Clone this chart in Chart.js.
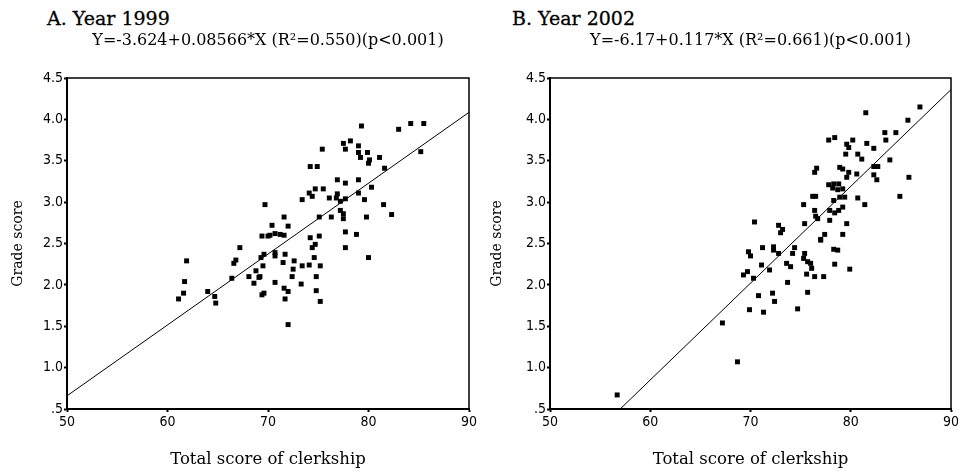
<!DOCTYPE html>
<html>
<head>
<meta charset="utf-8">
<script src="https://cdn.jsdelivr.net/npm/chart.js@4.4.1/dist/chart.umd.min.js"></script>
<style>
  html, body { margin: 0; padding: 0; background: #fff; }
  body { width: 958px; height: 473px; position: relative; overflow: hidden; }
  .panel { position: absolute; top: 0; width: 479px; height: 473px; }
  .heading { position: absolute; top: 9px; font: 19px/19px 'DejaVu Serif', serif; color: #000; white-space: nowrap; -webkit-text-stroke: 0.3px #000; }
</style>
</head>
<body>
<div class="heading" style="left:47px">A. Year 1999</div>
<div class="heading" style="left:512px">B. Year 2002</div>
<div class="panel" style="left:0"><canvas id="chart1999"></canvas></div>
<div class="panel" style="left:479px"><canvas id="chart2002"></canvas></div>
<script>
const xTickLabels = ['50', '60', '70', '80', '90'];
const yTickLabels = ['.5', '1.0', '1.5', '2.0', '2.5', '3.0', '3.5', '4.0', '4.5'];

const equation1999 = 'Y=-3.624+0.08566*X (R\u00b2=0.550)(p<0.001)';
const equation2002 = 'Y=-6.17+0.117*X (R\u00b2=0.661)(p<0.001)';

// clerkship score / grade score
const clerkship1999 = [
    61.1, 61.6, 61.7, 61.9, 64.0, 64.7, 64.8, 66.4, 66.6, 66.8, 67.2, 68.1, 68.6, 68.8, 69.1,
    69.3, 69.6, 69.5, 69.4, 69.6, 69.4, 70.0, 69.7, 70.4, 69.2, 70.7, 70.2, 70.7, 71.2, 71.6,
    71.6, 72.0, 70.7, 70.7, 71.7, 71.5, 72.6, 72.5, 73.4, 74.1, 74.6, 75.2, 72.4, 74.8, 73.3,
    71.6, 72.0, 71.7, 74.8, 75.2, 72.0, 74.2, 75.1, 74.7, 74.4, 77.7, 78.8, 77.7, 80.0, 73.4,
    74.1, 74.7, 74.4, 75.5, 76.1, 76.9, 76.8, 77.2, 77.7, 79.0, 79.6, 81.5, 82.3, 79.8, 77.2,
    77.5, 77.5, 76.3, 75.1, 74.2, 74.9, 76.9, 77.7, 79.0, 80.3, 75.4, 77.5, 77.7, 78.2, 79.0,
    79.0, 79.2, 79.9, 80.1, 80.0, 81.1, 81.6, 79.3, 83.0, 84.2, 85.5, 85.2
];
const grade1999 = [
    1.83, 1.90, 2.04, 2.29, 1.92, 1.86, 1.78, 2.08, 2.26, 2.30, 2.45, 2.10, 2.02, 2.17, 2.09,
    2.33, 2.37, 2.23, 1.88, 1.90, 2.59, 2.59, 2.97, 2.72, 2.10, 2.03, 2.60, 2.62, 2.61, 2.60,
    2.82, 2.71, 2.39, 2.35, 2.37, 2.27, 2.29, 2.19, 2.23, 2.24, 2.33, 2.23, 2.10, 2.10, 2.01,
    1.96, 1.92, 1.83, 1.93, 1.80, 1.52, 2.57, 2.59, 2.49, 2.45, 2.64, 2.61, 2.45, 2.33, 3.03,
    3.11, 3.16, 3.07, 3.16, 3.05, 3.10, 3.05, 3.01, 3.04, 3.11, 3.03, 2.97, 2.85, 2.82, 2.90,
    2.86, 2.80, 2.82, 2.82, 3.43, 3.43, 3.27, 3.23, 3.27, 3.18, 3.64, 3.71, 3.64, 3.74, 3.68,
    3.60, 3.54, 3.60, 3.51, 3.47, 3.54, 3.41, 3.92, 3.88, 3.95, 3.95, 3.61
];

// clerkship score / grade score
const clerkship2002 = [
    56.7, 67.2, 68.7, 69.9, 69.3, 69.7, 69.8, 70.0, 71.2, 72.3, 72.3, 72.8, 74.2, 74.4, 75.4,
    75.3, 75.7, 76.0, 76.1, 77.0, 78.3, 78.7, 78.4, 79.9, 71.1, 71.9, 70.3, 73.6, 74.0, 75.6,
    76.4, 77.3, 73.7, 70.8, 72.2, 72.4, 75.7, 71.3, 74.7, 86.9, 81.5, 85.7, 83.4, 84.5, 83.5,
    77.8, 78.4, 79.6, 80.2, 79.8, 81.6, 82.3, 79.5, 80.7, 81.1, 83.9, 76.6, 76.4, 78.9, 79.2,
    79.8, 80.6, 79.6, 82.3, 82.7, 82.3, 82.6, 85.8, 77.8, 78.3, 78.8, 78.2, 78.7, 79.2, 79.4,
    78.9, 78.3, 80.7, 81.4, 84.9, 76.2, 76.5, 75.3, 76.4, 76.5, 76.7, 77.9, 78.4, 78.8, 79.2,
    77.9, 79.6, 75.4, 70.4, 72.8, 73.2, 73.0, 77.0, 77.4, 79.2
];
const grade2002 = [
    0.67, 1.54, 1.07, 1.70, 2.12, 2.16, 2.40, 2.35, 2.45, 2.46, 2.42, 2.38, 2.38, 2.45, 2.38,
    2.32, 2.28, 2.26, 2.20, 2.54, 2.43, 2.42, 2.25, 2.19, 2.24, 2.18, 2.08, 2.26, 2.22, 2.13,
    2.10, 2.10, 2.03, 1.87, 1.90, 1.80, 1.91, 1.67, 1.71, 4.15, 4.08, 3.99, 3.84, 3.84, 3.75,
    3.75, 3.78, 3.70, 3.75, 3.66, 3.71, 3.65, 3.58, 3.58, 3.52, 3.51, 3.41, 3.36, 3.42, 3.40,
    3.36, 3.34, 3.30, 3.43, 3.43, 3.33, 3.27, 3.30, 3.21, 3.22, 3.22, 3.17, 3.15, 3.16, 3.06,
    3.06, 3.02, 3.05, 2.97, 3.07, 3.07, 3.07, 2.97, 2.90, 2.83, 2.80, 2.90, 2.87, 2.90, 2.94,
    2.78, 2.74, 2.74, 2.76, 2.72, 2.67, 2.63, 2.55, 2.61, 2.61
];

// end points of the fitted lines
const fitX1999 = [50, 90];
const fitY1999 = [0.659, 4.085];
const fitX2002 = [57.0, 90];
const fitY2002 = [0.5, 4.36];

const serif = "'DejaVu Serif', serif";
const narrow = "'DejaVu Sans Condensed', 'Liberation Sans Narrow', sans-serif";

const frameBox = {
    id: 'frameBox',
    afterDraw(chart) {
        const a = chart.chartArea;
        const ctx = chart.ctx;
        ctx.save();
        ctx.strokeStyle = '#000';
        ctx.lineWidth = 1.5;
        ctx.strokeRect(a.left, a.top, a.right - a.left, a.bottom - a.top);
        ctx.restore();
    }
};

function toPoints(xs, ys) {
    return xs.map((x, i) => ({ x: x, y: ys[i] }));
}

function makeChart(canvasId, equation, xs, ys, fitX, fitY, axisWidth, rightPad) {
    const ctx = document.getElementById(canvasId).getContext('2d');
    return new Chart(ctx, {
        type: 'scatter',
        data: {
            datasets: [{
                data: toPoints(xs, ys),
                pointStyle: 'rect',
                pointRadius: 3.5,
                pointHoverRadius: 3.5,
                backgroundColor: '#000',
                borderColor: '#000',
                borderWidth: 0
            }, {
                type: 'line',
                data: toPoints(fitX, fitY),
                borderColor: '#000',
                borderWidth: 1,
                pointRadius: 0,
                fill: false
            }]
        },
        options: {
            responsive: true,
            maintainAspectRatio: false,
            animation: false,
            events: [],
            layout: { padding: { left: 0, right: rightPad, top: 0, bottom: 0 } },
            plugins: {
                legend: { display: false },
                tooltip: { enabled: false },
                title: {
                    display: true,
                    text: equation,
                    fullSize: false,
                    color: '#000',
                    font: { family: serif, size: 16, weight: 'normal' },
                    padding: { top: 31, bottom: 27.8 }
                }
            },
            scales: {
                x: {
                    type: 'linear',
                    min: 50,
                    max: 90,
                    afterFit: (scale) => {
                        scale.height = 64;
                        scale.paddingLeft = 0;
                        scale.paddingRight = 0;
                    },
                    border: { color: '#000', width: 2 },
                    grid: { drawOnChartArea: false, tickLength: 3, tickColor: '#000', tickWidth: 2 },
                    ticks: {
                        stepSize: 10,
                        color: '#000',
                        padding: 2,
                        font: { family: narrow, size: 14 },
                        callback: (v, i) => xTickLabels[i]
                    },
                    title: {
                        display: true,
                        text: 'Total score of clerkship',
                        color: '#000',
                        font: { family: serif, size: 16.5 },
                        padding: { top: 0, bottom: 3.4 }
                    }
                },
                y: {
                    type: 'linear',
                    min: 0.5,
                    max: 4.5,
                    afterFit: (scale) => {
                        scale.width = axisWidth;
                        scale.paddingTop = 0;
                        scale.paddingBottom = 0;
                    },
                    border: { color: '#000', width: 2 },
                    grid: { drawOnChartArea: false, tickLength: 3, tickColor: '#000', tickWidth: 2 },
                    ticks: {
                        stepSize: 0.5,
                        autoSkip: false,
                        color: '#000',
                        padding: 1,
                        font: { family: narrow, size: 14 },
                        callback: (v, i) => yTickLabels[i]
                    },
                    title: {
                        display: true,
                        text: 'Grade score',
                        color: '#000',
                        font: { family: serif, size: 14 },
                        padding: { top: 9.6, bottom: 0 }
                    }
                }
            }
        },
        plugins: [frameBox]
    });
}

makeChart('chart1999', equation1999, clerkship1999, grade1999, fitX1999, fitY1999, 67, 10);
makeChart('chart2002', equation2002, clerkship2002, grade2002, fitX2002, fitY2002, 71, 7);
</script>
</body>
</html>
